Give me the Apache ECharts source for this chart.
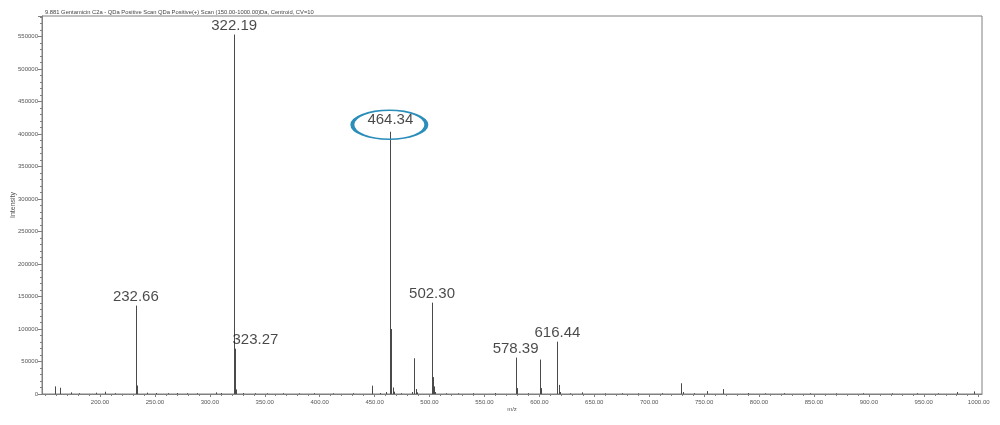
<!DOCTYPE html>
<html>
<head>
<meta charset="utf-8">
<script src="https://cdn.jsdelivr.net/npm/echarts@6/dist/echarts.min.js"></script>
<style>
html,body{margin:0;padding:0;background:#fff;}
#chart{width:1000px;height:425px;}
</style>
</head>
<body>
<div id="chart"></div>
<script>
// ---- data ----
const titleText = '9.881 Gentamicin C2a - QDa Positive Scan QDa Positive(+) Scan (150.00-1000.00)Da, Centroid, CV=10';
const peakMz = [
  159.4, 163.3, 173.6, 181.0, 196.4, 204.6, 214.0, 232.66, 233.66, 242.4,
  251.0, 261.5, 270.2, 279.0, 288.5, 305.6, 310.0, 322.19, 323.27, 324.25,
  330.0, 341.0, 352.0, 367.0, 381.0, 395.0, 412.0, 430.0, 447.2, 455.0,
  460.8, 464.34, 465.34, 466.34, 467.35, 474.0, 484.4, 486.3, 487.3, 488.3,
  502.30, 503.30, 504.30, 505.30, 515.0, 526.0, 540.0, 560.0, 578.39, 579.4,
  590.0, 600.4, 601.4, 616.44, 617.45, 618.4, 628.0, 638.5, 660.0, 675.0,
  690.0, 712.0, 729.4, 730.4, 741.0, 752.6, 767.6, 789.6, 805.0, 823.0,
  846.0, 870.0, 895.0, 921.0, 944.0, 963.0, 980.4, 996.0
];
const peakIntensity = [
  11700, 9700, 2500, 1200, 2000, 3500, 1200, 136000, 13000, 2000,
  1500, 1200, 1500, 1200, 1200, 2500, 1500, 553000, 69700, 7000,
  1500, 1200, 1000, 1200, 1000, 1200, 1000, 1200, 12800, 1500,
  3000, 403500, 100000, 10000, 3500, 1200, 3000, 55000, 7700, 2500,
  140500, 26000, 11700, 3000, 1200, 1000, 1200, 1500, 56000, 9000,
  1200, 53000, 9000, 80500, 14000, 3000, 1000, 2500, 1000, 1200,
  1000, 1200, 16500, 3000, 1200, 4500, 7500, 1500, 1000, 1200,
  1000, 1000, 1200, 1000, 1200, 1000, 3000, 4000
];
const labelledMz = [232.66, 322.19, 323.27, 464.34, 502.30, 578.39, 616.44];
const circledMz = 464.34;
const xMajorTicks = [200, 250, 300, 350, 400, 450, 500, 550, 600, 650, 700, 750, 800, 850, 900, 950, 1000];
const xMinorTicks = [];
for (let v = 150; v <= 1000; v += 10) xMinorTicks.push(v);

// ---- chart ----
const chart = echarts.init(document.getElementById('chart'), null, {renderer: 'canvas'});
const axisColor = '#808080';
const FONT = '"Liberation Sans", Arial, sans-serif';

const peakData = peakMz.map((m, i) => [m, peakIntensity[i]]);
const labelData = labelledMz.map(m => {
  const h = peakIntensity[peakMz.indexOf(m)];
  const item = {value: [m, h]};
  if (m === 323.27) item.label = {offset: [20, 0]};
  if (m === circledMz) item.label = {distance: 4};
  return item;
});
const circledH = peakIntensity[peakMz.indexOf(circledMz)];

const option = {
  animation: false,
  backgroundColor: '#fff',
  title: {
    text: titleText,
    left: 45, top: 9, padding: 0,
    textStyle: {fontFamily: FONT, fontSize: 5.8, fontWeight: 'normal', color: '#444'}
  },
  grid: {
    left: 42, right: 18, top: 16, bottom: 31,
    outerBoundsMode: 'none', containLabel: false,
    show: true, borderColor: axisColor, borderWidth: 1, backgroundColor: 'transparent'
  },
  xAxis: [{
    type: 'value', min: 147.2, max: 1003, position: 'bottom',
    name: 'm/z', nameLocation: 'middle', nameGap: 12, nameMoveOverlap: false,
    nameTextStyle: {fontFamily: FONT, fontSize: 6, color: '#555'},
    axisLine: {show: true, onZero: false, lineStyle: {color: axisColor, width: 1}},
    axisTick: {show: true, length: 3, customValues: xMajorTicks, lineStyle: {color: axisColor}},
    axisLabel: {customValues: xMajorTicks, formatter: v => v.toFixed(2), fontFamily: FONT, fontSize: 6, color: '#555', margin: 5},
    splitLine: {show: false}
  }, {
    type: 'value', min: 147.2, max: 1003, position: 'bottom',
    axisLine: {show: false},
    axisTick: {show: true, length: 2, customValues: xMinorTicks, lineStyle: {color: axisColor}},
    axisLabel: {show: false},
    splitLine: {show: false}
  }],
  yAxis: {
    type: 'value', min: 0, max: 581500, interval: 50000,
    name: 'Intensity', nameLocation: 'middle', nameGap: 25.5, nameRotate: 90, nameMoveOverlap: false,
    nameTextStyle: {fontFamily: FONT, fontSize: 7, color: '#555'},
    axisLine: {show: true, lineStyle: {color: axisColor, width: 1}},
    axisTick: {show: true, length: 4, lineStyle: {color: axisColor}},
    minorTick: {show: true, splitNumber: 5, length: 2, lineStyle: {color: axisColor}},
    axisLabel: {formatter: v => String(v), fontFamily: FONT, fontSize: 6, color: '#555', margin: 4, showMaxLabel: false},
    splitLine: {show: false}
  },
  series: [{
    type: 'custom',
    xAxisIndex: 0, yAxisIndex: 0,
    data: peakData,
    encode: {x: 0, y: 1},
    silent: true,
    renderItem: (params, api) => {
      const x = api.value(0), y = api.value(1);
      const p0 = api.coord([x, 0]);
      const p1 = api.coord([x, y]);
      const xx = Math.round(p0[0]) + 0.5;
      return {
        type: 'line',
        shape: {x1: xx, y1: p0[1], x2: xx, y2: p1[1]},
        style: {stroke: '#4a4a4a', lineWidth: 1}
      };
    }
  }, {
    type: 'scatter',
    xAxisIndex: 0, yAxisIndex: 0,
    symbolSize: 0,
    silent: true,
    data: labelData,
    label: {
      show: true, position: 'top', distance: 1,
      formatter: p => p.value[0].toFixed(2),
      fontFamily: FONT, fontSize: 15, color: '#1a1a1a'
    },
    markPoint: {
      silent: true,
      data: [{
        coord: [circledMz, circledH],
        symbol: 'path://M0,50 A50,50 0 1,1 100,50 A50,50 0 1,1 0,50 Z',
        symbolSize: [74, 29],
        symbolKeepAspect: false,
        symbolOffset: [-1, -7],
        itemStyle: {color: 'rgba(0,0,0,0)', borderColor: '#2a8dba', borderWidth: 2.5},
        label: {show: false}
      }]
    }
  }]
};
chart.setOption(option);
</script>
</body>
</html>
